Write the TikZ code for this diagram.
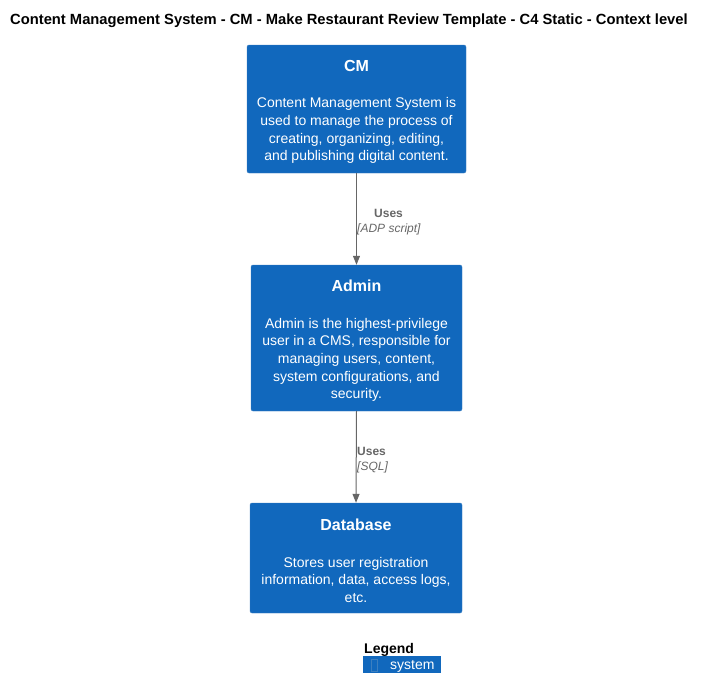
\documentclass[tikz,border=0pt]{standalone}
\usepackage{fontspec}
\setmainfont{Liberation Sans}
\usetikzlibrary{positioning,arrows.meta}
\definecolor{sysblue}{HTML}{1168BD}
\definecolor{sysline}{HTML}{3C7FC0}
\definecolor{relgrey}{HTML}{666666}
\tikzset{
  sysbox/.style={draw=sysline, fill=sysblue, text=white, rounded corners=2pt, align=center, inner sep=0pt, font=\fontsize{14}{17.7}\selectfont},
  rel/.style={draw=relgrey, line width=1pt, -{Triangle[length=9pt,width=7pt]}},
  reltext/.style={text=relgrey, anchor=base west, inner sep=0pt, font=\bfseries\fontsize{12}{15}\selectfont},
  reltech/.style={text=relgrey, anchor=base west, inner sep=0pt, font=\itshape\fontsize{12}{15}\selectfont}
}
\newcommand{\systitle}[1]{{\rule{0pt}{17.5pt}\bfseries\fontsize{16}{20}\selectfont #1}}
\begin{document}
\begin{tikzpicture}[x=1pt,y=-1pt]
  \useasboundingbox (0,0) rectangle (705,699);
  \node[anchor=base west, inner sep=0pt, font=\bfseries\fontsize{14.75}{17}\selectfont] (title) at (10,24)
    {Content Management System - CM - Make Restaurant Review Template - C4 Static - Context level};
  % systems
  \node[sysbox, minimum width=219pt, minimum height=128pt] (cm) at (356.5,109)
    {\systitle{CM}\\[18.5pt]
     Content Management System is\\ used to manage the process of\\
     creating, organizing, editing,\\ and publishing digital content.};
  \node[sysbox, minimum width=211pt, minimum height=146pt] (admin) at (356.5,338)
    {\systitle{Admin}\\[18.5pt]
     Admin is the highest-privilege\\ user in a CMS, responsible for\\
     managing users, content,\\ system configurations, and\\ security.};
  \node[sysbox, minimum width=212pt, minimum height=110pt] (db) at (356,558)
    {\systitle{Database}\\[18.5pt]
     Stores user registration\\ information, data, access logs,\\ etc.};
  % relations
  \draw[rel] (cm.south) -- (admin.north);
  \draw[rel] (admin.south) -- (db.north);
  \node[reltext] (uses1) at (374,217) {Uses};
  \node[reltech] (tech1) at (357,232) {[ADP script]};
  \node[reltext] (uses2) at (357,455) {Uses};
  \node[reltech] (tech2) at (357,470) {[SQL]};
  % legend
  \node[anchor=base west, inner sep=0pt, font=\bfseries\fontsize{14}{17}\selectfont] (legend) at (364,653) {Legend};
  \node[fill=sysblue, minimum width=78pt, minimum height=17pt, inner sep=0pt, anchor=north west] (legsys) at (363,656) {};
  \draw[sysline, line width=0.6pt] (371,659) rectangle (377,671);
  \node[anchor=base west, inner sep=0pt, text=white, font=\fontsize{14}{17}\selectfont] (legtext) at (390,669) {system};
\end{tikzpicture}
\end{document}
